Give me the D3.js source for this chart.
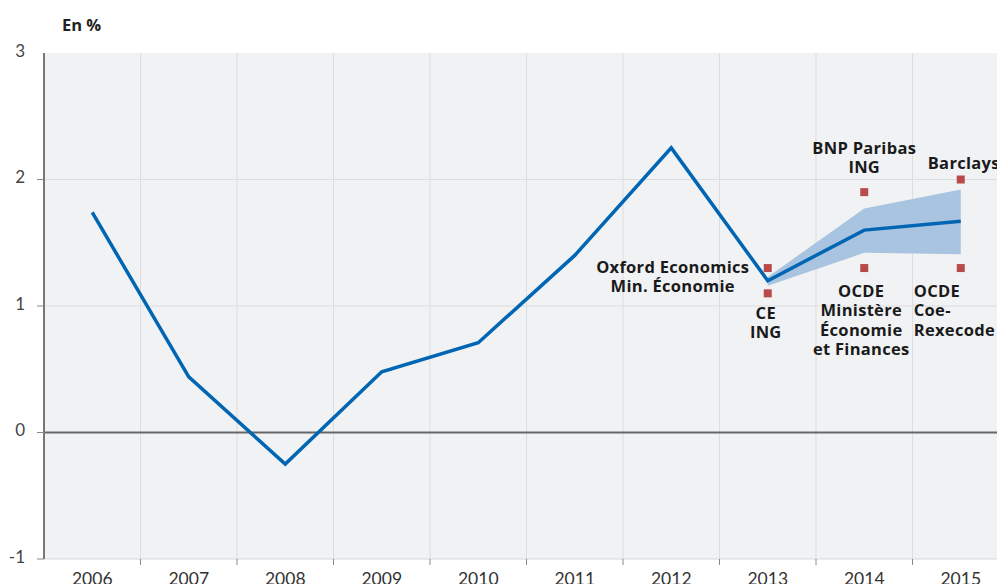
<!DOCTYPE html>
<html><head><meta charset="utf-8">
<script src="https://cdn.jsdelivr.net/npm/d3@7"></script>
<style>body{margin:0;background:#fff;overflow:hidden}svg{display:block}</style>
</head><body>
<svg id="c" width="997" height="584"></svg>
<script>
const years = ['2006','2007','2008','2009','2010','2011','2012','2013','2014','2015'];
const growth = [1.74,0.44,-0.25,0.48,0.71,1.40,2.25,1.20,1.60,1.67];
const bandYears = ['2013','2014','2015'];
const bandLow = [1.16,1.42,1.41];
const bandHigh = [1.23,1.77,1.92];
const markerYears = ['2013','2013','2014','2014','2015','2015'];
const markerValues = [1.30,1.10,1.90,1.30,2.00,1.30];
const markerLabels = [
  ['Oxford Economics','Min. Économie'],
  ['CE','ING'],
  ['BNP Paribas','ING'],
  ['OCDE','Ministère','Économie','et Finances'],
  ['Barclays'],
  ['OCDE','Coe-','Rexecode']
];
const yTicks = [-1,0,1,2,3];
const yTitle = 'En %';

(function(){
// layout of labels relative to markers (dx, dy of first line centre, anchor)
const labelLayout = [
  {dx:-95, dy:-2, anchor:'middle'},
  {dx:-2, dy:19, anchor:'middle'},
  {dx:0, dy:-45, anchor:'middle'},
  {dx:-3, dy:22, anchor:'middle'},
  {dx:3, dy:-17, anchor:'middle'},
  {dx:-47, dy:22, anchor:'start'}
];

const svg = d3.select('#c');
const mLeft = 44, mTop = 53, mBottom = 559;
const x = d3.scaleBand().domain(years).range([mLeft, mLeft + 96.5*10]);
const y = d3.scaleLinear().domain([-1,3]).range([mBottom, mTop]);
const cx = d => x(d) + x.bandwidth()/2;

svg.append('rect').attr('x', mLeft).attr('y', mTop).attr('width', 997-mLeft).attr('height', mBottom-mTop).attr('fill', '#f1f2f4');

svg.append('g').selectAll('line').data(years.slice(1)).join('line')
  .attr('x1', d=>x(d)).attr('x2', d=>x(d)).attr('y1', mTop).attr('y2', mBottom)
  .attr('stroke', '#dcdde0').attr('stroke-width', 1);
svg.append('g').selectAll('line').data([1,2]).join('line')
  .attr('x1', mLeft).attr('x2', 997).attr('y1', d=>y(d)).attr('y2', d=>y(d))
  .attr('stroke', '#dcdde0').attr('stroke-width', 1);
svg.append('line').attr('x1', mLeft).attr('x2', 997).attr('y1', mBottom).attr('y2', mBottom)
  .attr('stroke', '#d6d7da').attr('stroke-width', 1);
svg.append('g').selectAll('line').data(years.slice(1)).join('line')
  .attr('x1', d=>x(d)).attr('x2', d=>x(d)).attr('y1', mBottom).attr('y2', mBottom+6)
  .attr('stroke', '#888').attr('stroke-width', 1);
svg.append('line').attr('x1', mLeft).attr('x2', 997).attr('y1', y(0)).attr('y2', y(0))
  .attr('stroke', '#666').attr('stroke-width', 2);
svg.append('line').attr('x1', mLeft).attr('x2', mLeft).attr('y1', mTop).attr('y2', mBottom)
  .attr('stroke', '#777').attr('stroke-width', 2);
svg.append('g').selectAll('line').data(yTicks.filter(d=>d<3)).join('line')
  .attr('x1', 37).attr('x2', mLeft).attr('y1', d=>y(d)).attr('y2', d=>y(d))
  .attr('stroke', '#888').attr('stroke-width', 1);
svg.append('g').selectAll('text').data(yTicks).join('text')
  .attr('x', 25).attr('y', d=>y(d)-3).attr('text-anchor','end').attr('dominant-baseline','central')
  .attr('font-family','Lato, "Open Sans", sans-serif').attr('font-size', 17).attr('fill','#444')
  .text(d=>d);
svg.append('g').selectAll('text').data(years).join('text')
  .attr('x', d=>cx(d)).attr('y', 585).attr('text-anchor','middle')
  .attr('font-family','Lato, "Open Sans", sans-serif').attr('font-size', 17.5).attr('fill','#333')
  .text(d=>d);
svg.append('text').attr('x', 62).attr('y', 24).attr('dominant-baseline','central')
  .attr('font-family','"Open Sans", sans-serif').attr('font-weight','bold').attr('font-size', 16.5).attr('fill','#222')
  .text(yTitle);

const bandData = bandYears.map((d,i)=>({year:d, lo:bandLow[i], hi:bandHigh[i]}));
svg.append('path').datum(bandData)
  .attr('d', d3.area().x(d=>cx(d.year)).y0(d=>y(d.lo)).y1(d=>y(d.hi)))
  .attr('fill', '#a9c4e0');
svg.append('path').datum(years.map((d,i)=>({year:d, v:growth[i]})))
  .attr('d', d3.line().x(d=>cx(d.year)).y(d=>y(d.v)))
  .attr('fill','none').attr('stroke','#0066b3').attr('stroke-width',3.5).attr('stroke-linejoin','miter');
svg.append('g').selectAll('rect').data(markerYears.map((d,i)=>({year:d, v:markerValues[i]}))).join('rect')
  .attr('x', d=>cx(d.year)-4).attr('y', d=>y(d.v)-4).attr('width',8).attr('height',8)
  .attr('fill','#b84a4c');
markerLabels.forEach((lines,i)=>{
  const L = labelLayout[i];
  const px = cx(markerYears[i]) + L.dx, py = y(markerValues[i]) + L.dy;
  const t = svg.append('text').attr('text-anchor', L.anchor)
    .attr('font-family','"Open Sans", sans-serif').attr('font-weight','bold').attr('font-size', 16.5)
    .attr('letter-spacing', 0.3).attr('fill','#1a1a1a');
  lines.forEach((s,j)=>{
    t.append('tspan').attr('x', px).attr('y', py + j*19.5).attr('dominant-baseline','central').text(s);
  });
});
})();
</script>
</body></html>
